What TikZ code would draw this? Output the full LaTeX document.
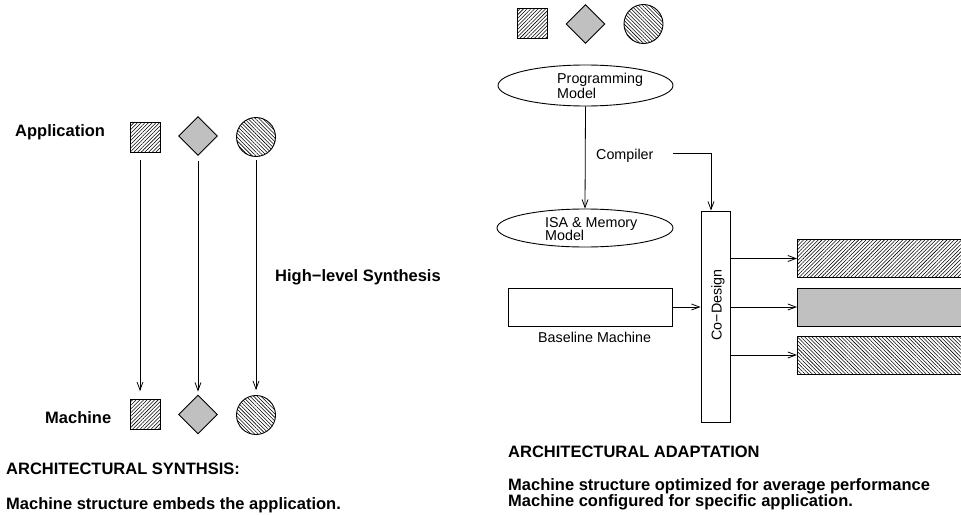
\documentclass[tikz,border=0pt]{standalone}
\usepackage{fontspec}
\setmainfont{Liberation Sans}
\usetikzlibrary{arrows.meta,patterns.meta,shapes.geometric,calc}

\definecolor{shapegray}{RGB}{192,192,192}

\tikzset{
  arr/.style={draw, line width=0.8pt, -{Straight Barb[length=8pt,width=6pt,line width=0.8pt]}},
  outline/.style={draw, line width=0.9pt, inner sep=0pt},
  hatchne/.style={pattern={Lines[angle=45,distance=2.6pt,line width=0.55pt]}},
  hatchnw/.style={pattern={Lines[angle=-45,distance=2.6pt,line width=0.55pt]}},
  sqshape/.style={outline, hatchne, rectangle, minimum size=30pt},
  dmshape/.style={outline, fill=shapegray, diamond, minimum size=39pt},
  cishape/.style={outline, hatchnw, circle, minimum size=39pt},
  bigtext/.style={font=\fontsize{16.5}{16.5}\selectfont\bfseries, inner sep=0pt, anchor=base west},
  smalltext/.style={font=\fontsize{14.3}{14.3}\selectfont, inner sep=0pt, anchor=base west},
  bar/.style={outline, rectangle, minimum width=175pt, minimum height=38pt, anchor=west},
}

\begin{document}
\begin{tikzpicture}[x=1pt,y=-1pt]
  \clip (0,0) rectangle (961,514);
  \fill[white] (0,0) rectangle (961,514);

  % ---------- architectural synthesis ----------
  \node[bigtext] (appLbl) at (15,136) {Application};
  \node[bigtext] (macLbl) at (45,423) {Machine};
  \node[bigtext] (hlsLbl) at (275,281) {High−level Synthesis};

  \node[sqshape] (aSq) at (145,137) {};
  \node[dmshape] (aDm) at (198,136) {};
  \node[cishape] (aCi) at (256,137) {};

  \node[sqshape] (mSq) at (145,414.5) {};
  \node[dmshape] (mDm) at (198,414.5) {};
  \node[cishape] (mCi) at (256,415) {};

  \draw[arr] ($(aSq.south)+(-5,8)$) -- ($(mSq.north)+(-5,-8)$);
  \draw[arr] ($(aDm.south)+(0,5)$) -- ($(mDm.north)+(0,-3)$);
  \draw[arr] ($(aCi.south)+(0,3)$) -- ($(mCi.north)+(0,-5)$);

  \node[bigtext] (synTitle) at (6,474) {ARCHITECTURAL SYNTHSIS:};
  \node[bigtext] (synText) at (6,509) {Machine structure embeds the application.};

  % ---------- architectural adaptation ----------
  \node[sqshape] (tSq) at (532,23.5) {};
  \node[dmshape] (tDm) at (585.5,24) {};
  \node[cishape] (tCi) at (643.5,24) {};

  \node[outline, ellipse, minimum width=175pt, minimum height=41pt] (progE) at (585.5,85.5) {};
  \node[smalltext] (progT1) at (557,83) {Programming};
  \node[smalltext] (progT2) at (557,98) {Model};

  \node[outline, ellipse, minimum width=176pt, minimum height=38pt] (isaE) at (585,228) {};
  \node[smalltext] (isaT1) at (545,227) {ISA \& Memory};
  \node[smalltext] (isaT2) at (545,240.5) {Model};

  \draw[arr] (progE.south) -- (isaE.north);

  \node[smalltext] (compLbl) at (596,159) {Compiler};

  \node[outline, rectangle, minimum width=29pt, minimum height=211pt] (cdBox) at (715.5,316.5) {};
  \node[font=\fontsize{14.3}{14.3}\selectfont, inner sep=0pt, rotate=90] (cdLbl) at (718,305) {Co−Design};

  \coordinate (cmpStart) at (673,153);
  \coordinate (cmpTurn) at (711,153);
  \draw[arr] (cmpStart) -- (cmpTurn) -- (cdBox.north -| cmpTurn);

  \node[outline, rectangle, minimum width=164pt, minimum height=38pt] (baseBox) at (590,307) {};
  \node[smalltext] (baseLbl) at (538,342) {Baseline Machine};
  \draw[arr] (baseBox.east) -- (baseBox.east -| cdBox.west);

  \node[bar, hatchne] (barA) at (797,258.5) {};
  \node[bar, fill=shapegray] (barB) at (797,307) {};
  \node[bar, hatchnw] (barC) at (797,355) {};

  \draw[arr] (cdBox.east |- barA.west) -- (barA.west);
  \draw[arr] (cdBox.east |- barB.west) -- (barB.west);
  \draw[arr] (cdBox.east |- barC.west) -- (barC.west);

  \node[bigtext] (adaTitle) at (508,457) {ARCHITECTURAL ADAPTATION};
  \node[font=\fontsize{16.5}{13}\selectfont\bfseries, inner sep=0pt, align=left, anchor=north west]
    (adaText) at (508,478) {Machine structure optimized for average performance\\Machine configured for specific application.};
\end{tikzpicture}
\end{document}
